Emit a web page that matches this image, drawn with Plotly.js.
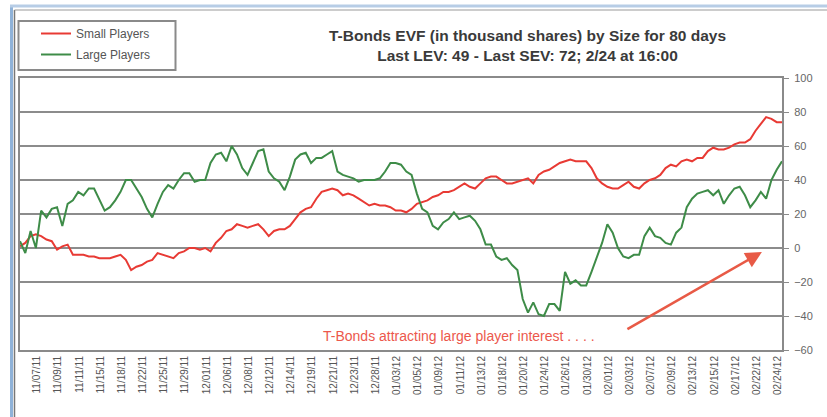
<!DOCTYPE html>
<html>
<head>
<meta charset="utf-8">
<script src="https://cdn.plot.ly/plotly-3.0.1.min.js"></script>
<style>
  html, body { margin: 0; padding: 0; background: #fff; }
  #chart { width: 827px; height: 417px; }
</style>
</head>
<body>
<div id="chart"></div>
<script>
// tick labels on the x axis (one every four samples)
const dates = [
  '11/07/11', '11/09/11', '11/11/11', '11/15/11', '11/18/11', '11/22/11',
  '11/25/11', '11/29/11', '12/01/11', '12/06/11', '12/08/11', '12/12/11',
  '12/14/11', '12/19/11', '12/21/11', '12/23/11', '12/28/11', '01/03/12',
  '01/05/12', '01/09/12', '01/11/12', '01/13/12', '01/18/12', '01/20/12',
  '01/24/12', '01/26/12', '01/30/12', '02/01/12', '02/03/12', '02/07/12',
  '02/09/12', '02/13/12', '02/15/12', '02/17/12', '02/22/12', '02/24/12'
]

// EVF values (in thousand shares)
const smallPlayers = [
  1, 3, 7, 8, 7, 5, 4, -1, 1, 2, -4, -4, -4, -5, -5, -6, -6, -6, -5, -4,
  -7, -13, -11, -10, -8, -7, -3, -4, -5, -6, -3, -2, 0, 0, -1, 0, -2, 3, 6, 10,
  11, 14, 13, 12, 13, 14, 11, 7, 10, 11, 11, 13, 17, 21, 23, 24, 29, 33, 34, 35,
  34, 31, 32, 31, 29, 27, 25, 26, 25, 25, 24, 22, 22, 21, 23, 26, 27, 28, 30, 31,
  33, 33, 34, 36, 38, 36, 35, 38, 41, 42, 42, 40, 38, 38, 39, 40, 41, 38, 43, 45,
  46, 48, 50, 51, 52, 51, 51, 51, 47, 41, 38, 36, 35, 35, 37, 39, 36, 35, 38, 40,
  41, 43, 47, 49, 48, 51, 52, 51, 53, 53, 57, 59, 58, 58, 59, 61, 62, 62, 64, 69,
  73, 77, 76, 74, 74
]
const largePlayers = [
  4, -3, 10, 0, 22, 18, 23, 24, 13, 26, 28, 33, 31, 35, 35, 28, 22, 24, 28, 33,
  40, 40, 35, 30, 23, 18, 26, 33, 37, 35, 40, 44, 44, 39, 40, 40, 50, 55, 56, 51,
  60, 55, 47, 43, 50, 57, 58, 45, 41, 39, 34, 42, 52, 55, 56, 50, 53, 53, 55, 57,
  45, 43, 42, 41, 39, 40, 40, 40, 41, 45, 50, 50, 49, 45, 43, 32, 23, 21, 13, 11,
  15, 17, 21, 17, 18, 19, 16, 11, 2, 2, -5, -7, -6, -10, -13, -30, -38, -32, -39, -40,
  -33, -33, -37, -14, -21, -19, -22, -22, -14, -5, 3, 14, 9, 0, -5, -6, -4, -4, 7, 12,
  7, 6, 3, 2, 9, 12, 24, 29, 32, 33, 34, 31, 34, 26, 31, 35, 36, 31, 24, 28,
  33, 29, 40, 46, 51
]

const samples = smallPlayers.map((_, i) => i)
const tickPos = dates.map((_, i) => 3.2 + 4 * i)

const FONT = 'Liberation Sans, Arial, sans-serif'

const traces = [ {
  x: samples,
  y: smallPlayers,
  type: 'scatter',
  mode: 'lines',
  name: 'Small Players',
  legendgroup: 'a',
  line: { color: 'rgb(232, 58, 52)', width: 2 },
}, {
  x: samples,
  y: largePlayers,
  type: 'scatter',
  mode: 'lines',
  name: 'Large Players',
  legendgroup: 'b',
  line: { color: 'rgb(62, 140, 72)', width: 2 },
} ]

// paper coords helpers (plot area is 20..782 px wide, 78..350 px tall)
const px = v => (v - 20) / 762
const py = v => (350 - v) / 272

const layout = {
  width: 827,
  height: 417,
  margin: { l: 20, r: 45, t: 78, b: 67 },
  paper_bgcolor: '#fff',
  plot_bgcolor: '#fff',
  font: { family: FONT, color: '#444' },
  showlegend: true,
  legend: {
    x: px(36), y: py(19), xanchor: 'left', yanchor: 'top',
    bgcolor: 'rgba(0,0,0,0)',
    font: { family: FONT, size: 12, color: '#555' },
    traceorder: 'grouped',
    tracegroupgap: 2,
    itemwidth: 30,
  },
  xaxis: {
    range: [0, 144],
    tickmode: 'array',
    tickvals: tickPos,
    ticktext: dates,
    tickangle: -90,
    tickfont: { family: FONT, size: 10, color: '#555' },
    showgrid: false,
    zeroline: false,
    showline: true,
    mirror: true,
    linecolor: '#8a8a8a',
    linewidth: 2,
    ticks: '',
  },
  yaxis: {
    range: [-60, 100],
    dtick: 20,
    side: 'right',
    tickfont: { family: FONT, size: 11, color: '#666' },
    ticklabelstandoff: 3,
    showgrid: true,
    gridcolor: '#8c8c8c',
    gridwidth: 2,
    zeroline: false,
    showline: true,
    mirror: true,
    linecolor: '#8a8a8a',
    linewidth: 2,
    ticks: 'outside',
    ticklen: 5,
    tickcolor: '#8a8a8a',
  },
  shapes: [
    // outer frame of the screenshot
    { type: 'line', xref: 'paper', yref: 'paper', x0: px(11.5), x1: px(11.5), y0: py(417), y1: py(6),
      line: { color: '#8fb2d8', width: 3 } },
    { type: 'line', xref: 'paper', yref: 'paper', x0: px(10), x1: px(827), y0: py(6), y1: py(6),
      line: { color: '#b7cde6', width: 3 } },
    { type: 'line', xref: 'paper', yref: 'paper', x0: px(14.5), x1: px(14.5), y0: py(417), y1: py(10),
      line: { color: '#777', width: 1.5 } },
    { type: 'line', xref: 'paper', yref: 'paper', x0: px(14.5), x1: px(827), y0: py(10), y1: py(10),
      line: { color: '#999', width: 1 } },
    // legend box
    { type: 'rect', xref: 'paper', yref: 'paper', x0: px(18.5), x1: px(175.5), y0: py(70), y1: py(21),
      line: { color: '#8a8a8a', width: 2 } },
  ],
  annotations: [ {
    xref: 'paper', yref: 'paper',
    x: px(527), y: py(45), xanchor: 'center', yanchor: 'middle',
    text: '<b>T-Bonds EVF (in thousand shares) by Size for 80 days<br>Last LEV: 49 - Last SEV: 72; 2/24 at 16:00</b>',
    showarrow: false,
    align: 'center',
    font: { family: FONT, size: 15.5, color: '#3a3a3a' },
  }, {
    xref: 'x', yref: 'y',
    x: 83, y: -51.5,
    text: 'T-Bonds attracting large player interest . . . .',
    showarrow: false,
    font: { family: FONT, size: 14, color: 'rgb(236, 88, 76)' },
  }, {
    xref: 'x', yref: 'y', axref: 'x', ayref: 'y',
    x: 140.2, y: -2.4,
    ax: 114.5, ay: -48.2,
    text: '',
    showarrow: true,
    arrowhead: 2,
    arrowsize: 1.3,
    arrowwidth: 2.5,
    arrowcolor: 'rgb(232, 90, 70)',
  } ],
}

try {
  Plotly.newPlot('chart', traces, layout, { displayModeBar: false, staticPlot: true })
} catch (e) {
  console.log('ERR', e)
}
</script>
</body>
</html>
